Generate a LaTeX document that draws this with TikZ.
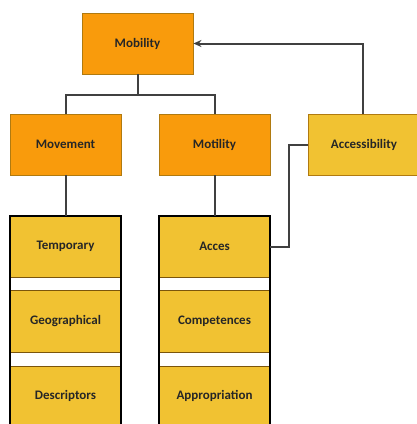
\documentclass[tikz,border=0pt]{standalone}
\usepackage{fontspec}
\setmainfont{Carlito}
\usetikzlibrary{arrows.meta}
\definecolor{org}{HTML}{F99B0C}
\definecolor{yel}{HTML}{F1C232}
\definecolor{edge}{HTML}{B07A10}
\tikzset{
  box/.style={draw=edge, line width=0.9pt, minimum width=111pt, minimum height=61pt, inner sep=0pt, font=\bfseries\fontsize{13}{15}\selectfont, text=black!85},
  obox/.style={box, fill=org},
  ybox/.style={box, fill=yel},
  sbox/.style={draw=edge!70!black, line width=0.8pt, fill=yel, minimum width=111pt, inner sep=0pt, font=\bfseries\fontsize{13}{15}\selectfont, text=black!85},
  conn/.style={draw=black!75, line width=2pt},
  frame/.style={draw=black, line width=2.6pt}
}
\begin{document}
\begin{tikzpicture}[x=1pt,y=-1pt]
\useasboundingbox (0,0) rectangle (417,424);
% top boxes
\node[obox] (mob) at (137.5,43.5) {Mobility};
\node[obox] (mov) at (65.5,144.5) {Movement};
\node[obox] (mot) at (214.5,144.5) {Motility};
\node[ybox, minimum width=112pt] (acc) at (364,144.5) {Accessibility};
% stacks
\node[sbox, minimum height=61pt] (tem) at (65.5,246.5) {Temporary};
\node[sbox, minimum height=62pt] (geo) at (65.5,321) {Geographical};
\node[sbox, minimum height=60pt] (des) at (65.5,396) {Descriptors};
\node[sbox, minimum height=61pt] (acs) at (214.5,246.5) {Acces};
\node[sbox, minimum height=62pt] (com) at (214.5,321) {Competences};
\node[sbox, minimum height=60pt] (app) at (214.5,396) {Appropriation};
\draw[frame] (10,428) |- (121,216) -- (121,428);
\draw[frame] (159,428) |- (270,216) -- (270,428);
% connectors
\coordinate (j) at (137.5,95);
\draw[conn] (mob.south) -- (j);
\draw[conn] (mov.north) |- (j) -| (mot.north);
\draw[conn] (mov.south) -- (tem.north);
\draw[conn] (mot.south) -- (acs.north);
\draw[conn, -{Stealth[length=8pt,width=7pt]}] (acc.north -| 363,0) |- (mob.east);
\draw[conn] (acc.west) -- ++(-19,0) |- (acs.east);
\end{tikzpicture}
\end{document}
